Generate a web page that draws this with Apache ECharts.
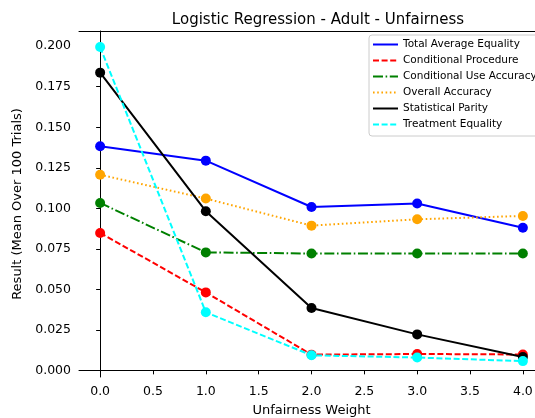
<!DOCTYPE html>
<html>
<head>
<meta charset="utf-8">
<script src="https://cdn.jsdelivr.net/npm/echarts@6/dist/echarts.min.js"></script>
<style>
  html, body { margin: 0; padding: 0; background: #fff; }
  #chart { width: 535px; height: 418px; }
</style>
</head>
<body>
<div id="chart"></div>
<script>
// unfairness weights (x)
var weights = [0, 1, 2, 3, 4];
var totalAverageEquality = [0.1383, 0.1294, 0.1008, 0.1030, 0.0880];
var conditionalProcedure = [0.0848, 0.0481, 0.0097, 0.0101, 0.0098];
var conditionalUseAccuracy = [0.1033, 0.0728, 0.0721, 0.0721, 0.0721];
var overallAccuracy = [0.1207, 0.1060, 0.0893, 0.0932, 0.0953];
var statisticalParity = [0.1837, 0.0982, 0.0385, 0.0222, 0.0082];
var treatmentEquality = [0.1995, 0.0358, 0.0093, 0.0079, 0.0057];
// tick labels
var xTicks = [0, 0.5, 1, 1.5, 2, 2.5, 3, 3.5, 4];
var yTicks = [0, 0.025, 0.05, 0.075, 0.1, 0.125, 0.15, 0.175, 0.2];

var font = 'DejaVu Sans';

function pairs(vals) {
  return vals.map(function (v, i) { return [weights[i], v]; });
}

function mkSeries(name, vals, color, type) {
  return {
    name: name,
    type: 'line',
    data: pairs(vals),
    symbol: 'circle',
    symbolSize: 10,
    showAllSymbol: true,
    itemStyle: { color: color },
    lineStyle: { color: color, width: 2, type: type },
    emphasis: { disabled: true },
    animation: false
  };
}

var myChart = echarts.init(document.getElementById('chart'), null, { renderer: 'canvas' });
var option = {
  backgroundColor: '#fff',
  textStyle: { fontFamily: font },
  title: {
    text: 'Logistic Regression - Adult - Unfairness',
    left: 313,
    textAlign: 'center',
    top: 8,
    textStyle: { fontFamily: font, fontSize: 15, fontWeight: 'normal', color: '#000' }
  },
  grid: { left: 79, right: -9, top: 31, bottom: 41, containLabel: false, outerBoundsMode: 'none' },
  legend: {
    orient: 'vertical',
    left: 369,
    top: 35,
    padding: [4, 6, 6, 3],
    itemWidth: 25,
    itemHeight: 10,
    itemGap: 5,
    backgroundColor: 'rgba(255,255,255,0.85)',
    borderColor: '#ccc',
    borderWidth: 1,
    borderRadius: 3,
    itemStyle: { opacity: 0 },
    textStyle: { fontFamily: font, fontSize: 10.5, color: '#000' }
  },
  xAxis: [{
    type: 'value',
    min: -0.2,
    max: 4.2,
    name: 'Unfairness Weight',
    nameLocation: 'middle',
    nameGap: 27,
    nameTextStyle: { fontFamily: font, fontSize: 13, color: '#000' },
    axisLine: { lineStyle: { color: '#000', width: 1 } },
    axisTick: { show: true, length: 4, customValues: xTicks, lineStyle: { color: '#000' } },
    axisLabel: {
      customValues: xTicks,
      margin: 8,
      fontFamily: font, fontSize: 12.5, color: '#000',
      formatter: function (v) { return v.toFixed(1); }
    },
    splitLine: { show: false }
  }, {
    // top spine only
    type: 'value',
    position: 'top',
    min: -0.2,
    max: 4.2,
    axisLine: { show: true, lineStyle: { color: '#000', width: 1 } },
    axisTick: { show: false },
    axisLabel: { show: false },
    splitLine: { show: false }
  }],
  yAxis: {
    type: 'value',
    min: -0.0041,
    max: 0.2094,
    name: 'Result (Mean Over 100 Trials)',
    nameLocation: 'middle',
    nameGap: 51,
    nameTextStyle: { fontFamily: font, fontSize: 13, color: '#000' },
    axisLine: { show: true, lineStyle: { color: '#000', width: 1 } },
    axisTick: { show: true, length: 4, customValues: yTicks, lineStyle: { color: '#000' } },
    axisLabel: {
      customValues: yTicks,
      margin: 8,
      fontFamily: font, fontSize: 12.5, color: '#000',
      formatter: function (v) { return v.toFixed(3); }
    },
    splitLine: { show: false }
  },
  series: [
    mkSeries('Total Average Equality', totalAverageEquality, '#0000ff', 'solid'),
    mkSeries('Conditional Procedure', conditionalProcedure, '#ff0000', [6, 2.6]),
    mkSeries('Conditional Use Accuracy', conditionalUseAccuracy, '#008000', [10, 2.6, 1.6, 2.6]),
    mkSeries('Overall Accuracy', overallAccuracy, '#ffa500', [1.6, 2.6]),
    mkSeries('Statistical Parity', statisticalParity, '#000000', 'solid'),
    mkSeries('Treatment Equality', treatmentEquality, '#00ffff', [6, 2.6])
  ]
};
myChart.setOption(option);
</script>
</body>
</html>
